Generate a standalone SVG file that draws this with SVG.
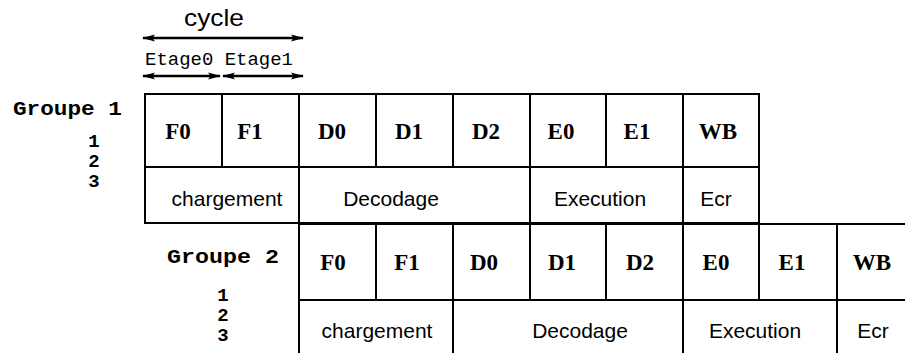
<svg xmlns="http://www.w3.org/2000/svg" width="905" height="353" viewBox="0 0 905 353">
<style>
.ln{stroke:#000;stroke-width:2;fill:none;stroke-linecap:square}
.st{font-family:"Liberation Serif","Times New Roman",serif;font-weight:bold;font-size:23px;text-anchor:middle;fill:#000}
.ph{font-family:"Liberation Sans",Arial,sans-serif;font-size:21px;text-anchor:middle;fill:#000}
.gr{font-family:"Liberation Mono","Courier New",monospace;font-weight:bold;font-size:21px;fill:#000}
.dg{font-family:"Liberation Mono","Courier New",monospace;font-weight:bold;font-size:19px;text-anchor:middle;fill:#000}
.et{font-family:"Liberation Mono","Courier New",monospace;font-size:18px;fill:#000}
.cy{font-family:"Liberation Sans",Arial,sans-serif;font-size:24px;text-anchor:middle;fill:#000}
.ar{stroke:#000;stroke-width:2.5;fill:none}
</style>
<defs>
<marker id="ah" viewBox="0 0 13 8" refX="12" refY="4" markerWidth="13" markerHeight="8" markerUnits="userSpaceOnUse" orient="auto-start-reverse">
<path d="M0,0.6 L13,4 L0,7.4 L2.5,4 Z" fill="#000"/>
</marker>
</defs>
<rect width="905" height="353" fill="#fff"/>

<g id="header">
<text class="cy" x="214" y="26" textLength="60" lengthAdjust="spacingAndGlyphs">cycle</text>
<text class="et" x="145" y="65" textLength="148" lengthAdjust="spacingAndGlyphs">Etage0 Etage1</text>
</g>

<g id="connectors">
<line class="ar" x1="143" y1="38" x2="303" y2="38" marker-start="url(#ah)" marker-end="url(#ah)"/>
<line class="ar" x1="143" y1="76" x2="220" y2="76" marker-start="url(#ah)" marker-end="url(#ah)"/>
<line class="ar" x1="223" y1="76" x2="303" y2="76" stroke-width="1.5" marker-start="url(#ah)" marker-end="url(#ah)"/>
</g>

<g id="groupe1-label">
<text class="gr" x="13" y="115" textLength="109" lengthAdjust="spacingAndGlyphs">Groupe 1</text>
<text class="dg" x="94" y="147">1</text>
<text class="dg" x="94" y="167">2</text>
<text class="dg" x="94" y="187">3</text>
</g>

<g id="groupe1-grid">
<path class="ln" d="M145,94 H759 V223 H145 Z M145,167 H759 M222,94 V167 M299,94 V223 M376,94 V167 M453,94 V167 M530,94 V223 M606,94 V167 M683,94 V223"/>
</g>
<g id="g1-F0"><text class="st" x="178" y="139">F0</text></g>
<g id="g1-F1"><text class="st" x="250" y="139">F1</text></g>
<g id="g1-D0"><text class="st" x="332" y="139">D0</text></g>
<g id="g1-D1"><text class="st" x="409" y="139">D1</text></g>
<g id="g1-D2"><text class="st" x="486" y="139">D2</text></g>
<g id="g1-E0"><text class="st" x="561" y="139">E0</text></g>
<g id="g1-E1"><text class="st" x="637" y="139">E1</text></g>
<g id="g1-WB"><text class="st" x="718" y="139">WB</text></g>
<g id="g1-chargement"><text class="ph" x="227" y="206">chargement</text></g>
<g id="g1-decodage"><text class="ph" x="391" y="206">Decodage</text></g>
<g id="g1-execution"><text class="ph" x="600" y="206">Execution</text></g>
<g id="g1-ecr"><text class="ph" x="716" y="206">Ecr</text></g>

<g id="groupe2-label">
<text class="gr" x="167" y="263" textLength="112" lengthAdjust="spacingAndGlyphs">Groupe 2</text>
<text class="dg" x="223" y="301">1</text>
<text class="dg" x="223" y="321">2</text>
<text class="dg" x="223" y="341">3</text>
</g>

<g id="groupe2-grid">
<path class="ln" d="M299,224 H906 M299,224 V354 M299,300 H906 M376,224 V300 M453,224 V354 M530,224 V300 M606,224 V300 M683,224 V354 M759,224 V300 M837,224 V354"/>
</g>
<g id="g2-F0"><text class="st" x="333" y="270">F0</text></g>
<g id="g2-F1"><text class="st" x="407" y="270">F1</text></g>
<g id="g2-D0"><text class="st" x="484" y="270">D0</text></g>
<g id="g2-D1"><text class="st" x="562" y="270">D1</text></g>
<g id="g2-D2"><text class="st" x="640" y="270">D2</text></g>
<g id="g2-E0"><text class="st" x="716" y="270">E0</text></g>
<g id="g2-E1"><text class="st" x="792" y="270">E1</text></g>
<g id="g2-WB"><text class="st" x="872" y="270">WB</text></g>
<g id="g2-chargement"><text class="ph" x="377" y="338">chargement</text></g>
<g id="g2-decodage"><text class="ph" x="580" y="338">Decodage</text></g>
<g id="g2-execution"><text class="ph" x="755" y="338">Execution</text></g>
<g id="g2-ecr"><text class="ph" x="873" y="338">Ecr</text></g>
</svg>
